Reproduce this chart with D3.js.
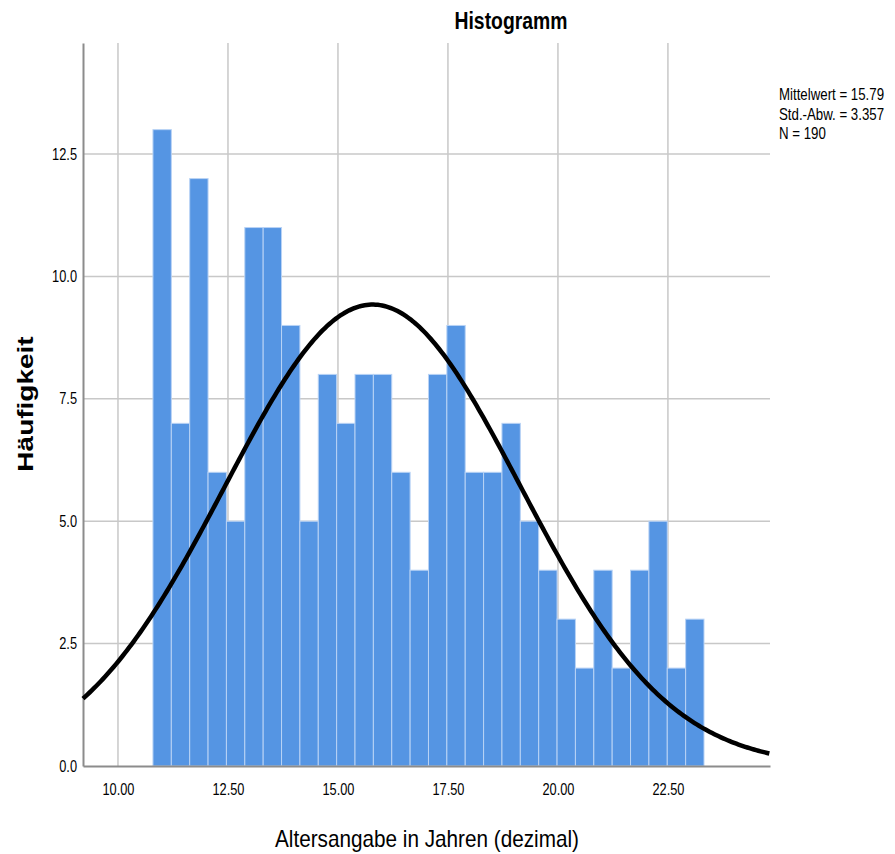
<!DOCTYPE html>
<html>
  <head>
    <meta charset="utf-8" />
    <script src="https://cdn.jsdelivr.net/npm/d3@7"></script>
    <style>
      body { margin: 0; background: #fff; }
      text { font-family: 'Liberation Sans', Arial, sans-serif; fill: #000; }
    </style>
  </head>
  <body>
    <svg id="chart" width="895" height="854"></svg>
    <script>
      // histogram counts, one per bin (left to right)
      var counts = [13, 7, 12, 6, 5, 11, 11, 9, 5, 8, 7, 8, 8, 6, 4, 8, 9, 6, 6, 7, 5, 4, 3, 2, 4, 2, 4, 5, 2, 3];
      var binStart = 10.795;
      var binWidth = 0.4175;
      var xTicks = [10, 12.5, 15, 17.5, 20, 22.5];
      var yTicks = [0, 2.5, 5, 7.5, 10, 12.5];
      var stats = { mean: 15.79, sd: 3.357, n: 190 };
      var statLines = ['Mittelwert = 15.79', 'Std.-Abw. = 3.357', 'N = 190'];

      var svg = d3.select('#chart');

      // the SPSS output is narrow, so squeeze text horizontally
      function squish(sel, f) {
        sel.each(function() {
          var w = this.getComputedTextLength();
          d3.select(this).attr('textLength', w * f).attr('lengthAdjust', 'spacingAndGlyphs');
        });
      }

      var sx = d3.scaleLinear().domain([9.205, 24.82]).range([83, 770]);
      var sy = d3.scaleLinear().domain([0, 14.77]).range([766, 43]);

      // grid lines
      svg.append('g')
        .selectAll('line')
        .data(xTicks)
        .enter()
        .append('line')
        .attr('x1', d => sx(d)).attr('x2', d => sx(d))
        .attr('y1', sy.range()[1]).attr('y2', sy.range()[0])
        .attr('stroke', '#c8c8c8')
        .attr('stroke-width', 1.5);
      svg.append('g')
        .selectAll('line')
        .data(yTicks.slice(1))
        .enter()
        .append('line')
        .attr('x1', sx.range()[0]).attr('x2', sx.range()[1])
        .attr('y1', d => sy(d)).attr('y2', d => sy(d))
        .attr('stroke', '#c8c8c8')
        .attr('stroke-width', 1.5);

      // bars
      svg.append('g')
        .selectAll('rect')
        .data(counts)
        .enter()
        .append('rect')
        .attr('x', (d, i) => sx(binStart + i * binWidth))
        .attr('width', (d, i) => sx(binStart + (i + 1) * binWidth) - sx(binStart + i * binWidth))
        .attr('y', d => sy(d))
        .attr('height', d => sy(0) - sy(d))
        .attr('fill', '#5595e3')
        .attr('stroke', '#b9d3f5')
        .attr('stroke-width', 1);

      // axes
      var xaxis = d3.axisBottom(sx).tickValues(xTicks).tickSize(0).tickPadding(18).tickFormat(d3.format('.2f'));
      var yaxis = d3.axisLeft(sy).tickValues(yTicks).tickSize(0).tickPadding(6).tickFormat(d3.format('.1f'));

      var gx = svg.append('g').attr('transform', 'translate(0,' + sy(0) + ')').call(xaxis);
      var gy = svg.append('g').attr('transform', 'translate(' + sx.range()[0] + ',0)').call(yaxis);
      [gx, gy].forEach(function(g) {
        g.select('.domain').attr('stroke', '#8c8c8c').attr('stroke-width', 2);
        g.selectAll('text')
          .style('font-family', "'Liberation Sans', Arial, sans-serif")
          .style('font-size', '16px')
          .attr('fill', '#000')
          .call(squish, 0.8);
      });

      // normal curve
      var curveX = d3.range(sx.domain()[0], sx.domain()[1] + 0.001, 0.05);
      var norm = function(x) {
        var z = (x - stats.mean) / stats.sd;
        return stats.n * binWidth / (stats.sd * Math.sqrt(2 * Math.PI)) * Math.exp(-0.5 * z * z);
      };
      svg.append('path')
        .attr('d', d3.line().x(d => sx(d)).y(d => sy(norm(d)))(curveX))
        .attr('fill', 'none')
        .attr('stroke', '#000')
        .attr('stroke-width', 4.5);

      // titles
      svg.append('text')
        .attr('x', 511).attr('y', 29)
        .attr('text-anchor', 'middle')
        .attr('textLength', 113)
        .attr('lengthAdjust', 'spacingAndGlyphs')
        .style('font-size', '24px')
        .style('font-weight', 'bold')
        .text('Histogramm');

      svg.append('text')
        .attr('x', 427).attr('y', 847)
        .attr('text-anchor', 'middle')
        .attr('textLength', 304)
        .attr('lengthAdjust', 'spacingAndGlyphs')
        .style('font-size', '24px')
        .text('Altersangabe in Jahren (dezimal)');

      svg.append('text')
        .attr('transform', 'translate(33,404) rotate(-90) scale(1,0.8)')
        .attr('text-anchor', 'middle')
        .style('font-size', '28px')
        .style('font-weight', 'bold')
        .text('Häufigkeit');

      // stats box
      svg.append('g')
        .selectAll('text')
        .data(statLines)
        .enter()
        .append('text')
        .attr('x', 779)
        .attr('y', (d, i) => 100 + i * 19.5)
        .style('font-size', '17px')
        .text(d => d)
        .call(squish, 0.78);
    </script>
  </body>
</html>
